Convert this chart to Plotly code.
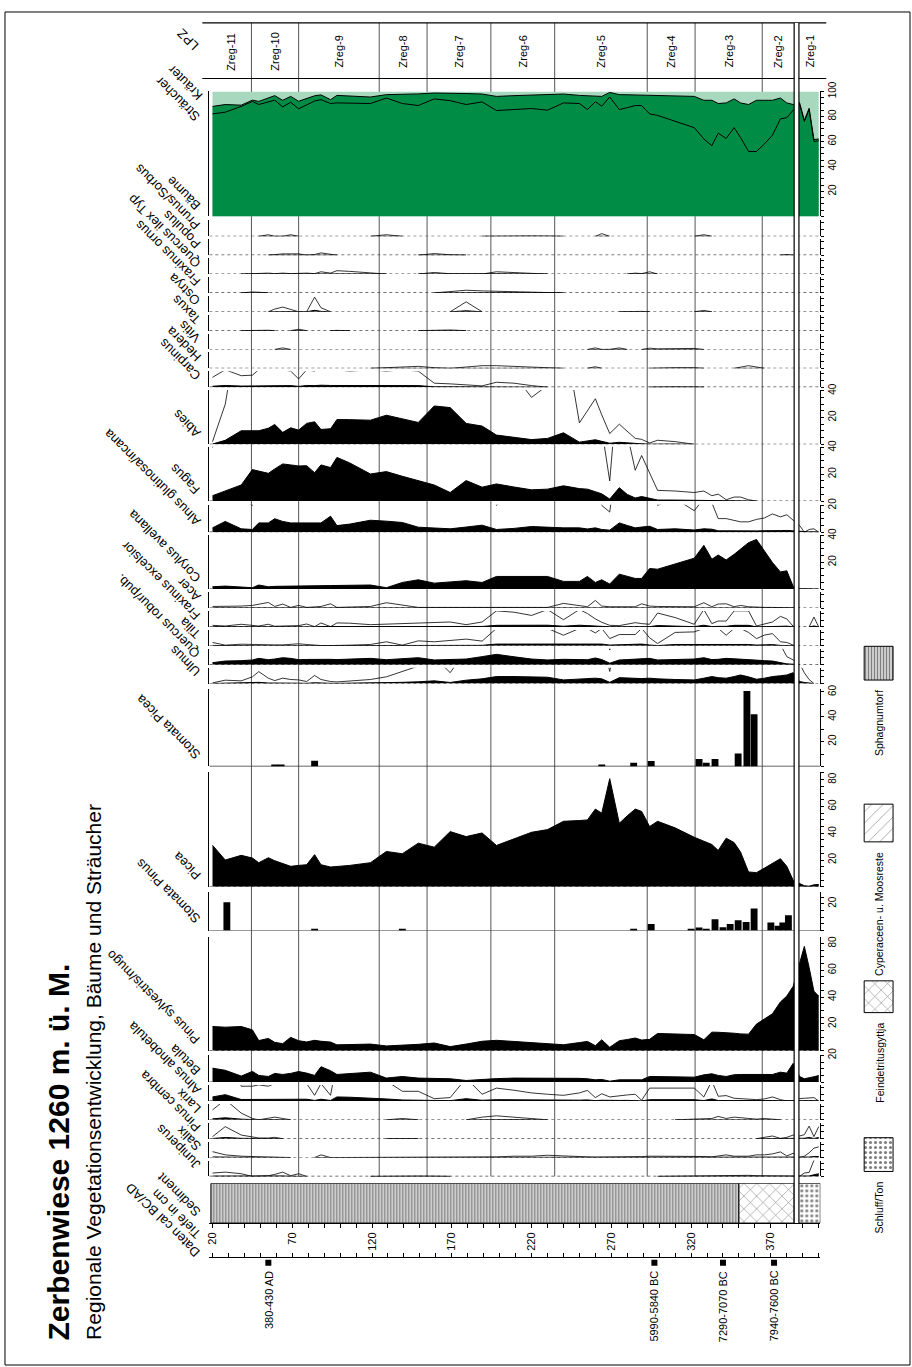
import plotly.graph_objects as go

W, H = 912, 1367
FONT = "Arial, 'Liberation Sans', Helvetica, sans-serif"

# ------------------------------------------------------------------ data
DEPTH = [20, 28, 38, 45, 49, 55, 59, 64, 69, 74,
         79, 84, 88, 94, 98, 106, 119, 129, 139, 149,
         159, 169, 179, 189, 198, 209, 220, 230, 240, 250,
         255, 260, 264, 269, 275, 280, 285, 289, 294, 299,
         310, 322, 328, 333, 337, 342, 347, 351, 356, 361,
         366, 371, 376, 380, 384, 388, 391, 394, 397, 400]

BAEUME = [82, 83.4, 88, 92, 89.5, 91.5, 93, 87.6, 91.3, 86.1,
          89.5, 92.3, 93.4, 90.3, 90.8, 90.6, 90.3, 94.7, 90.3, 88.7,
          94, 92.6, 89.5, 91.6, 84.7, 85.5, 86.3, 85, 90.8, 90.3,
          85.5, 91.8, 88.2, 95.5, 85.5, 87, 88.7, 88.7, 82, 80.8,
          76, 71, 62, 56.6, 66.6, 62.4, 71, 63.2, 52, 52,
          58, 65, 78, 79, 85, 89.5, 76, 85.5, 60, 60.5]
STRAEUCHER = [6, 6.1, 1, 1, 2.5, 3.5, 3.6, 5.3, 4.7, 6,
              5, 4.2, 3.8, 3.1, 6, 5.7, 5.2, 2.7, 7.3, 9.3,
              4.7, 6.1, 8.8, 6.3, 11.3, 11.1, 10.7, 12.4, 7.1, 6.5,
              11.2, 4.8, 7.8, 3.7, 11.9, 10.3, 8.5, 8.5, 15.1, 16.2,
              20.5, 25, 30.9, 36.3, 23.7, 28.4, 23, 27.6, 37.5, 40.9,
              34.9, 27.9, 16.7, 11.8, 4.5, 1.5, 1, 1, 1.5, 1.5]
KRAEUTER = [12, 10.5, 11, 7, 8, 5, 3.4, 7.1, 4, 7.9,
            5.5, 3.5, 2.8, 6.6, 3.2, 3.7, 4.5, 2.6, 2.4, 2,
            1.3, 1.3, 1.7, 2.1, 4, 3.4, 3, 2.6, 2.1, 3.2,
            3.3, 3.4, 4, 0.8, 2.6, 2.7, 2.8, 2.8, 2.9, 3,
            3.5, 4, 7.1, 7.1, 9.7, 9.2, 6, 9.2, 10.5, 7.1,
            7.1, 7.1, 5.3, 9.2, 10.5, 9, 23, 13.5, 38.5, 38]

PRUNUS_SORBUS = [0, 0, 0, 0, 0, 0.12, 0, 0, 0.12, 0,
                 0, 0, 0, 0, 0, 0, 0, 0.12, 0, 0,
                 0, 0, 0, 0, 0.02, 0.03, 0.03, 0.02, 0, 0,
                 0, 0, 0.2, 0, 0, 0, 0, 0, 0, 0,
                 0, 0, 0.12, 0, 0, 0, 0, 0, 0, 0,
                 0, 0, 0, 0, 0, 0, 0, 0, 0, 0]
POPULUS = [0, 0, 0, 0, 0, 0, 0.05, 0.1, 0.1, 0.1,
           0, 0.05, 0.17, 0.05, 0, 0, 0, 0, 0, 0,
           0.12, 0.03, 0, 0, 0, 0, 0, 0, 0, 0,
           0, 0, 0, 0, 0, 0, 0, 0, 0, 0,
           0, 0, 0, 0, 0, 0, 0, 0, 0, 0,
           0, 0, 0, 0.05, 0, 0, 0, 0, 0, 0]
QUERCUS_ILEX = [0, 0, 0, 0.05, 0.05, 0.07, 0.03, 0.07, 0.03, 0.05,
                0.07, 0.03, 0.17, 0.07, 0.25, 0.2, 0.1, 0, 0, 0,
                0.12, 0.02, 0, 0, 0.17, 0.1, 0.05, 0, 0, 0,
                0, 0, 0, 0, 0, 0, 0.07, 0.03, 0.17, 0,
                0, 0, 0, 0, 0, 0, 0, 0, 0, 0,
                0, 0, 0, 0, 0, 0, 0, 0, 0, 0]
FRAXINUS_ORNUS = [0, 0, 0, 0.07, 0.05, 0, 0, 0, 0, 0,
                  0, 0, 0, 0, 0, 0, 0, 0, 0, 0,
                  0, 0.1, 0.2, 0.15, 0.12, 0.1, 0.07, 0.05, 0, 0,
                  0, 0, 0, 0, 0, 0, 0, 0, 0, 0,
                  0, 0, 0, 0, 0, 0, 0, 0, 0, 0,
                  0, 0, 0, 0, 0, 0, 0, 0, 0, 0]
OSTRYA = [0, 0, 0, 0, 0, 0, 0.2, 0.35, 0.2, 0,
          0, 1.09, 0.3, 0, 0, 0, 0, 0, 0, 0,
          0, 0, 0.74, 0, 0, 0, 0, 0, 0, 0,
          0, 0, 0, 0, 0, 0.03, 0.05, 0.03, 0, 0,
          0, 0, 0.1, 0, 0, 0, 0, 0, 0, 0,
          0, 0, 0, 0, 0, 0, 0, 0, 0, 0]
TAXUS = [0, 0, 0, 0.02, 0.02, 0.03, 0, 0, 0, 0.1,
         0, 0, 0, 0, 0.02, 0, 0, 0, 0, 0,
         0.02, 0.05, 0, 0, 0, 0, 0, 0, 0, 0,
         0, 0, 0, 0, 0, 0, 0, 0, 0, 0,
         0, 0, 0, 0, 0, 0, 0, 0, 0, 0,
         0, 0, 0, 0, 0, 0, 0, 0, 0, 0]
VITIS = [0, 0, 0, 0, 0, 0, 0, 0.12, 0, 0,
         0, 0, 0, 0, 0, 0, 0, 0, 0, 0,
         0, 0, 0, 0, 0, 0, 0, 0, 0, 0,
         0, 0.12, 0, 0, 0.12, 0, 0, 0, 0.1, 0.05,
         0.05, 0.08, 0, 0, 0, 0, 0, 0, 0, 0,
         0, 0, 0, 0, 0, 0, 0, 0, 0, 0]
HEDERA = [0, 0, 0, 0, 0, 0, 0, 0, 0, 0,
          0, 0, 0, 0, 0, 0, 0, 0.05, 0.1, 0.15,
          0.05, 0, 0.1, 0.2, 0.2, 0.15, 0.1, 0.05, 0, 0,
          0, 0.12, 0, 0, 0, 0, 0, 0, 0, 0.03,
          0.05, 0.05, 0, 0, 0, 0, 0, 0.1, 0.2, 0.1,
          0, 0, 0, 0, 0, 0, 0, 0, 0, 0]
CARPINUS = [0.74, 1.3, 0.86, 0.9, 1.3, 1.3, 1.5, 1.3, 1.2, 0.62,
            1.3, 1.2, 1.5, 1.3, 1.3, 1.2, 1.3, 1.2, 1.3, 1.2,
            0.3, 0.25, 0.2, 0.1, 0.37, 0.3, 0.12, 0, 0, 0,
            0, 0, 0, 0, 0, 0, 0, 0, 0, 0.02,
            0.03, 0.02, 0, 0, 0, 0, 0, 0, 0, 0,
            0, 0, 0, 0, 0, 0, 0, 0, 0, 0]
ABIES = [0.2, 3.0, 10.1, 10.1, 10.1, 12, 14.8, 8.9, 12.3, 10.6,
         15.6, 16.8, 11.1, 11.6, 18.5, 18.4, 18, 21.7, 18.8, 16.3,
         28.6, 27.4, 15.6, 13.6, 6.9, 5.2, 3.5, 4.4, 8.6, 1.6,
         2.5, 3.4, 2.2, 0.8, 1.5, 1.0, 0.44, 0.37, 0.1, 0.3,
         0.2, 0, 0, 0, 0, 0, 0, 0, 0, 0,
         0, 0, 0, 0, 0, 0, 0, 0, 0, 0]
FAGUS = [4, 7.5, 12, 23.5, 22.5, 20.7, 24, 27.7, 27, 26.2,
         26.4, 21.2, 27, 25, 32.6, 28.5, 20.2, 22, 18.5, 15,
         12, 6.4, 15.3, 10.4, 12.8, 10.5, 8.4, 8.9, 11.4, 9.3,
         8.9, 7, 5.4, 1.5, 10, 5, 2.3, 3.4, 2.1, 0.8,
         0.75, 0.64, 0.75, 0.4, 0.52, 0.1, 0.3, 0.3, 0.1, 0,
         0, 0, 0, 0, 0, 0, 0, 0, 0, 0]
ALNUS_GLUT = [3.2, 8, 2.5, 2, 6.9, 6.9, 10, 8, 6.9, 6.9,
              6.9, 6.9, 6.9, 11.9, 4.9, 6, 8.9, 8.2, 7.2, 3.7,
              3.2, 2.5, 3.8, 5.2, 2, 2.8, 4.2, 3.6, 3.2, 3.2,
              2.4, 3.2, 2, 1.5, 6.9, 5, 3.2, 3.8, 4.4, 2,
              2.5, 1.6, 2.5, 2.2, 1.01, 1.01, 0.9, 0.77, 0.77, 0.95,
              1.06, 1.36, 1.14, 1.3, 0.89, 0.5, 0, 0.2, 0.25, 0]
CORYLUS = [1.7, 2.2, 1.5, 1, 3, 1.7, 2, 2, 2.1, 2.2,
           2.3, 2.4, 2.5, 2.6, 2.7, 2.8, 3, 1, 4.9, 6.9,
           4.4, 5.3, 6.2, 4.9, 9.4, 9.4, 9.4, 9.4, 5.7, 5.7,
           9.4, 4.9, 6.9, 3.7, 11.1, 9.5, 7.9, 7.9, 15.3, 14.8,
           18.5, 23, 32.6, 22.2, 25.4, 21.7, 25.9, 30, 34.6, 37,
           28, 19.8, 12.8, 13.6, 2, 0.2, 0.2, 0.1, 0.1, 0]
ACER = [0.12, 0.12, 0.15, 0.2, 0.3, 0.42, 0.12, 0.3, 0.05, 0.2,
        0.05, 0.1, 0.12, 0.32, 0.05, 0.08, 0.12, 0.4, 0.25, 0.05,
        0.05, 0.05, 0.02, 0.02, 0.05, 0.05, 0.05, 0.05, 0.35, 0.15,
        0.1, 0.57, 0.15, 0.1, 0.12, 0.12, 0.1, 0.32, 0.15, 0.12,
        0.1, 0.1, 0.4, 0.1, 0.3, 0.32, 0.1, 0.2, 0.1, 0.05,
        0.05, 0.05, 0.05, 0.05, 0.05, 0, 0, 0, 0, 0]
FRAX_EXC = [0.12, 0.07, 0.2, 0.12, 0.07, 0.2, 0.05, 0.07, 0.1, 0.1,
            0.22, 0.02, 0.3, 0.02, 0.3, 0.28, 0.17, 0.22, 0.25, 0.28,
            0.32, 0.37, 0.17, 0.37, 1.2, 1.1, 0.86, 1.3, 0.54, 1.3,
            1.0, 0.6, 0.35, 0.12, 0.1, 0.2, 0.32, 0.25, 0.2, 1.04,
            0.7, 0.2, 1.3, 0.25, 0.44, 0.44, 1.2, 1.2, 1.2, 0.07,
            0.2, 0.37, 0.79, 0.6, 0.05, 0, 0, 0, 0.74, 0]
TILIA = [0.25, 0.05, 0.12, 0.1, 0.05, 0.05, 0.07, 0.07, 0.1, 0.15,
         0.1, 0.05, 0.02, 0.02, 0.02, 0.05, 0.1, 0.3, 0.05, 0.37,
         0.3, 0.42, 0.5, 0.35, 1.3, 1.3, 1.3, 1.3, 0.79, 1.3,
         1.3, 0.96, 1.3, 0.54, 0.84, 0.84, 0.84, 1.3, 0.6, 0.17,
         1.0, 1.04, 1.3, 1.3, 1.3, 0.79, 1.3, 1.3, 1.0, 0.54,
         0.8, 0.91, 0.3, 0.25, 0.05, 0, 0, 0, 0, 0]
QUERCUS = [1.5, 2.7, 3, 3.5, 4.7, 3.7, 4.2, 5.2, 4.7, 3.7,
           3.9, 4, 4.2, 4, 3.8, 4.2, 4.7, 3.7, 4.3, 5.2,
           3.5, 3.8, 4.2, 6, 7.7, 5.9, 4.2, 3.5, 4, 3.8,
           3.7, 5, 3.8, 1.09, 3.5, 3.8, 4.2, 4.4, 4.7, 3.5,
           3.8, 4.2, 5.2, 3.8, 4, 4.7, 4.4, 4, 3.7, 3.5,
           3, 2.7, 1.5, 0.6, 0.35, 0, 0, 0, 0, 0]
ULMUS = [0.05, 0.25, 0.2, 0.5, 0.89, 0.4, 0.22, 0.4, 0.3, 0.27,
         0.15, 0.6, 0.3, 0.15, 0.12, 0.2, 0.3, 0.5, 0.9, 1.3,
         2, 0.81, 2.5, 3.5, 5.2, 5.2, 5.2, 4.7, 2.7, 3.5,
         3.8, 4, 3.5, 0.9, 4.4, 4, 3.5, 3.7, 4, 3.5,
         3, 2.7, 4, 5.2, 4.4, 4, 5.2, 6.4, 5, 3.2,
         4, 5.2, 5.8, 6.4, 8.1, 1.5, 0.8, 0.3, 0, 0]
PICEA = [31, 20, 23.5, 21.5, 18, 21.7, 19.5, 17.5, 15.3, 16,
         16.5, 24, 16.5, 14.8, 15.2, 16, 18, 26.4, 24.7, 32.6,
         29.6, 41.2, 37.5, 40.2, 30.9, 35.8, 40.7, 42.7, 48.9, 49.5,
         49.9, 58, 55, 80.7, 47.4, 53, 58, 56.3, 45, 48.9,
         44, 37, 34, 31.6, 27.2, 36.3, 33, 26, 11.1, 10.6,
         14, 17.8, 21, 15.3, 4.9, 2.5, 0.8, 0.5, 1.5, 1.8]
PINUS = [18, 17.5, 18, 15.5, 7.5, 9.1, 6.2, 5.2, 9.9, 7.4,
         6.5, 7.7, 7, 6.4, 4.3, 4.5, 4.9, 3.5, 4, 4.7,
         5.7, 3, 4.9, 7, 7.7, 6.8, 5.8, 5, 4.4, 6,
         6.9, 3.7, 8.1, 2.5, 7.4, 8.3, 9.4, 7.9, 8.4, 12.8,
         12.5, 12, 8.1, 13.8, 13.7, 13.6, 13, 12.5, 12.3, 19.8,
         23.5, 27.5, 36.3, 40.7, 48, 66, 77.8, 62, 44.4, 40.7]
BETULA = [10.4, 8.8, 4.5, 8, 5, 4.2, 6.5, 5.7, 6.5, 7.9,
          6.7, 5, 11.5, 8.5, 5.7, 6.2, 7.4, 3, 4.2, 3,
          3, 2.5, 1.2, 2.2, 2.6, 3, 3, 3.2, 3, 2.8,
          2.5, 1.7, 2, 0.7, 1.7, 1.8, 1.7, 1.7, 4.2, 4,
          3.9, 3.7, 5.4, 6.2, 5, 4.2, 5.5, 5.7, 5.7, 5.7,
          5.7, 5.7, 7.4, 6.7, 14, 4.2, 2.5, 3, 4, 4.9]
ALNUS_ALNOB = [3, 4.7, 1.1, 1.1, 1.2, 1.1, 1.3, 1.5, 1.5, 1.5,
               1.3, 0.42, 1.3, 0.42, 3, 2.8, 2.2, 1.5, 0.72, 0.72,
               0.17, 0.25, 1.7, 0.5, 0.96, 0.8, 0.6, 0.5, 0.42, 0.6,
               0.79, 0.25, 0.54, 0.3, 0.4, 0.45, 0.5, 0.05, 0.96, 0.96,
               0.96, 0.96, 0.3, 1.5, 0.35, 0.4, 0.2, 0.17, 0.15, 0.1,
               0.15, 0.3, 0.1, 0, 0, 0.17, 0.2, 0.2, 0.25, 0]
LARIX = [0.74, 1.5, 0.5, 0.1, 0, 0.15, 0.2, 0.1, 0, 0,
         0, 0, 0, 0, 0, 0, 0, 0, 0.1, 0,
         0, 0, 0, 0.2, 0.3, 0.2, 0.1, 0, 0, 0,
         0, 0, 0, 0, 0, 0, 0, 0, 0, 0,
         0, 0.05, 0.05, 0.1, 0.25, 0.1, 0.2, 0.15, 0.1, 0.05,
         0.1, 0.05, 0, 0, 0, 0, 0, 0, 0, 0]
PINUS_CEMBRA = [0.15, 0.9, 0.27, 0.15, 0.05, 0.05, 0.1, 0, 0, 0,
                0, 0, 0, 0, 0, 0, 0, 0, 0.02, 0,
                0, 0, 0, 0, 0, 0, 0, 0, 0, 0,
                0, 0, 0, 0, 0, 0, 0, 0, 0, 0,
                0, 0, 0, 0, 0, 0, 0, 0, 0, 0,
                0.1, 0.2, 0.02, 0.1, 0.27, 0.2, 0.3, 0.94, 0.15, 0.9]
SALIX = [0.44, 0.2, 0.1, 0.07, 0.05, 0.05, 0.02, 0.02, 0, 0,
         0, 0, 0.2, 0, 0, 0.02, 0.03, 0.03, 0.03, 0.03,
         0.03, 0.05, 0.05, 0.05, 0.05, 0.1, 0.1, 0.17, 0.1, 0.05,
         0.05, 0.03, 0.03, 0.05, 0.03, 0.05, 0.05, 0.07, 0.1, 0.1,
         0.1, 0.12, 0.08, 0.05, 0.12, 0.2, 0.1, 0.12, 0.1, 0.2,
         0.2, 0.27, 0.42, 0.12, 0.32, 0, 0.1, 0.35, 0.7, 0.8]
JUNIPERUS = [0.25, 0.32, 0.2, 0, 0.02, 0.05, 0.15, 0.32, 0.05, 0.2,
             0, 0, 0, 0, 0, 0, 0, 0.02, 0.05, 0.03,
             0.02, 0, 0, 0, 0, 0, 0, 0, 0, 0,
             0, 0, 0, 0, 0, 0, 0, 0, 0, 0,
             0.02, 0.02, 0.02, 0.03, 0.03, 0.05, 0.05, 0.05, 0.08, 0.05,
             0.05, 0.05, 0.05, 0.05, 0, 0, 0.25, 0.3, 1.2, 2]

STOMATA_PICEA_DEPTH = [59, 63, 84, 264, 284, 295, 325, 329.5, 335, 349.5, 355, 359.5]
STOMATA_PICEA = [1.1, 1.1, 4.5, 0.8, 3, 4.3, 5.9, 3, 5.9, 10.4, 60.8, 42]
STOMATA_PINUS_DEPTH = [29, 84, 139, 284, 295, 320, 325, 329.5, 335, 340,
                       344.5, 349.5, 354.5, 359.5, 370, 374.5, 377.5, 381]
STOMATA_PINUS = [21, 1, 1, 1, 4.9, 1, 2.2, 1, 8.4, 2.5,
                 4.9, 7.7, 6.4, 16.5, 5.9, 3.5, 6, 11.4]

ZONE_NAMES = ["Zreg-11", "Zreg-10", "Zreg-9", "Zreg-8", "Zreg-7", "Zreg-6",
              "Zreg-5", "Zreg-4", "Zreg-3", "Zreg-2", "Zreg-1"]
ZONE_TOP = [19, 44.4, 74, 124.5, 154.5, 194.5, 234.5, 292.5, 322.5, 364.6, 387.6]
ZONE_BOTTOM = [44.4, 74, 124.5, 154.5, 194.5, 234.5, 292.5, 322.5, 364.6, 384.6, 401]
HIATUS = [384.6, 387.6]

DATE_DEPTH = [55, 297, 340, 372]
DATE_LABELS = ["380-430 AD", "5990-5840 BC", "7290-7070 BC", "7940-7600 BC"]

SED_START = [19, 350, 386]
SED_END = [350, 384.6, 401]
SED_TYPE = ["Sphagnumtorf", "Feindetritusgyttja", "Schluff/Ton"]
LEGEND_TYPES = ["Sphagnumtorf", "Cyperaceen- u. Moosreste", "Feindetritusgyttja", "Schluff/Ton"]

TITLE = "Zerbenwiese 1260 m. ü. M."
SUBTITLE = "Regionale Vegetationsentwicklung, Bäume und Sträucher"

# ------------------------------------------------------------------ style / layout helpers
X_RANGE = [18, 401]
PXPCT = 1.35          # pixel per percent
EXAG = 10             # exaggeration factor
SMALL = 16 / PXPCT    # range of the small curves
DARK_GREEN = "#008c45"
LIGHT_GREEN = "#a8d9be"
LABEL_SIZE = 13
PATTERNS = {
    "Sphagnumtorf": dict(shape="|", size=3, solidity=0.6),
    "Cyperaceen- u. Moosreste": dict(shape="/", size=8, solidity=0.08),
    "Feindetritusgyttja": dict(shape="x", size=9, solidity=0.12),
    "Schluff/Ton": dict(shape=".", size=5, solidity=0.3),
}


def fx(p):
    return p / W


def fy(p):
    return 1 - p / H


fig = go.Figure()
axes = {}
shapes = []
anns = []
ycount = [0]


def next_key():
    ycount[0] += 1
    k = ycount[0]
    return ("y" if k == 1 else "y%d" % k), ("yaxis" if k == 1 else "yaxis%d" % k)


def make_y(base, top, rmax, tickvals=None, ticktext=None, visible=True, anchor="x"):
    name, key = next_key()
    ax = dict(domain=[fy(base), fy(top)], range=[0, rmax], anchor=anchor,
              showgrid=False, zeroline=False, fixedrange=True)
    if visible:
        ax.update(side="right", showline=True, linecolor="black", linewidth=1, mirror=True,
                  ticks="outside", ticklen=3, tickwidth=1, tickcolor="black",
                  tickmode="array", tickvals=tickvals, ticktext=ticktext, tickangle=-90,
                  tickfont=dict(family=FONT, size=10, color="black"))
    else:
        ax.update(visible=False)
    axes[key] = ax
    if visible:
        # inner ticks on the left-hand axis line
        _, key2 = next_key()
        axes[key2] = dict(overlaying=name, side="left", anchor=anchor, range=[0, rmax],
                          showgrid=False, zeroline=False, fixedrange=True, showline=False,
                          ticks="inside", ticklen=3, tickwidth=1, tickcolor="black",
                          tickmode="array", tickvals=tickvals, showticklabels=False)
    return name


def label(text, y_px, x_px=204, size=LABEL_SIZE):
    anns.append(dict(text=text, xref="paper", yref="paper", x=fx(x_px), y=fy(y_px),
                     xanchor="right", yanchor="bottom", textangle=-135, showarrow=False,
                     font=dict(family=FONT, size=size, color="black")))


def mask(vals):
    out = []
    n = len(vals)
    for i, v in enumerate(vals):
        left = vals[i - 1] if i > 0 else 0
        right = vals[i + 1] if i < n - 1 else 0
        out.append(None if (v == 0 and left == 0 and right == 0) else v)
    return out


def ticks_for(rmax, labels, dtick):
    tv = list(range(0, int(rmax) + 1, dtick))
    tt = [str(v) if v in labels else "" for v in tv]
    return tv, tt


def area_panel(name, vals, base, rmax, labels=(), exag=False, dtick=5):
    top = base - rmax * PXPCT
    tv, tt = ticks_for(rmax, labels, dtick)
    yn = make_y(base, top, rmax, tv, tt)
    shapes.append(dict(type="line", xref="x", yref=yn, x0=X_RANGE[0], x1=X_RANGE[1], y0=0, y1=0,
                       line=dict(color="#444", width=1.2, dash="dot"), layer="below"))
    fig.add_trace(go.Scatter(x=DEPTH, y=mask(vals), mode="lines", fill="tozeroy", fillcolor="black",
                             line=dict(color="black", width=1), xaxis="x", yaxis=yn,
                             hoverinfo="skip", name=name))
    if exag:
        fig.add_trace(go.Scatter(x=DEPTH, y=mask([v * EXAG for v in vals]), mode="lines",
                                 line=dict(color="black", width=0.8), xaxis="x", yaxis=yn,
                                 hoverinfo="skip", name=name + " x10"))
    label(name, base - 1)


def bar_panel(name, depths, vals, base, rmax, scale, labels, dtick):
    top = base - rmax * scale
    tv, tt = ticks_for(rmax, labels, dtick)
    yn = make_y(base, top, rmax, tv, tt)
    shapes.append(dict(type="line", xref="x", yref=yn, x0=X_RANGE[0], x1=X_RANGE[1], y0=0, y1=0,
                       line=dict(color="#333", width=1.2), layer="below"))
    fig.add_trace(go.Bar(x=depths, y=vals, width=4.3, marker=dict(color="black", line=dict(width=0)),
                         xaxis="x", yaxis=yn, hoverinfo="skip", name=name))
    label(name, base - 1)


# ------------------------------------------------------------------ green summary panel
tv, tt = ticks_for(100, (20, 40, 60, 80, 100), 5)
yg = make_y(208, 82, 100, tv, tt)
cum1 = BAEUME
cum2 = [b + s for b, s in zip(BAEUME, STRAEUCHER)]
cum3 = [b + s + k for b, s, k in zip(BAEUME, STRAEUCHER, KRAEUTER)]
fig.add_trace(go.Scatter(x=DEPTH, y=cum3, mode="lines", fill="tozeroy", fillcolor=LIGHT_GREEN,
                         line=dict(width=0), xaxis="x", yaxis=yg, hoverinfo="skip", name="Kräuter"))
fig.add_trace(go.Scatter(x=DEPTH, y=cum2, mode="lines", fill="tozeroy", fillcolor=DARK_GREEN,
                         line=dict(color="black", width=1), xaxis="x", yaxis=yg, hoverinfo="skip",
                         name="Sträucher"))
fig.add_trace(go.Scatter(x=DEPTH, y=cum1, mode="lines", line=dict(color="black", width=1),
                         xaxis="x", yaxis=yg, hoverinfo="skip", name="Bäume"))
label("Bäume", 207)
label("Sträucher", 118)
label("Kräuter", 96, x_px=206)

# ------------------------------------------------------------------ pollen panels
small_upper = [("Prunus/Sorbus", PRUNUS_SORBUS), ("Populus", POPULUS),
               ("Quercus ilex Typ", QUERCUS_ILEX), ("Fraxinus ornus", FRAXINUS_ORNUS),
               ("Ostrya", OSTRYA), ("Taxus", TAXUS), ("Vitis", VITIS), ("Hedera", HEDERA),
               ("Carpinus", CARPINUS)]
for i, (nm, vals) in enumerate(small_upper):
    area_panel(nm, vals, 228 + 19 * i, SMALL, exag=True)

area_panel("Abies", ABIES, 437.5, 40.5, (20, 40), exag=True)
area_panel("Fagus", FAGUS, 494.7, 40.5, (20, 40), exag=True)
area_panel("Alnus glutinosa/incana", ALNUS_GLUT, 526, 20.5, (20,), exag=True)
area_panel("Corylus avellana", CORYLUS, 583.3, 40.5, (20, 40))

small_mid = [("Acer", ACER), ("Fraxinus excelsior", FRAX_EXC), ("Tilia", TILIA),
             ("Quercus robur/pub.", QUERCUS), ("Ulmus", ULMUS)]
for i, (nm, vals) in enumerate(small_mid):
    area_panel(nm, vals, 602.5 + 19 * i, SMALL, exag=True)

bar_panel("Stomata Picea", STOMATA_PICEA_DEPTH, STOMATA_PICEA, 762, 62, 1.25, (20, 40, 60), 10)
area_panel("Picea", PICEA, 883.3, 85.4, (20, 40, 60, 80))
bar_panel("Stomata Pinus", STOMATA_PINUS_DEPTH, STOMATA_PINUS, 927.3, 29, PXPCT, (20,), 5)
area_panel("Pinus sylvestris/mugo", PINUS, 1048.3, 84.7, (20, 40, 60, 80))
area_panel("Betula", BETULA, 1080, 20.4, (20,))

small_low = [("Alnus alnobetula", ALNUS_ALNOB), ("Larix", LARIX), ("Pinus cembra", PINUS_CEMBRA),
             ("Salix", SALIX), ("Juniperus", JUNIPERUS)]
for i, (nm, vals) in enumerate(small_low):
    area_panel(nm, vals, 1099 + 19 * i, SMALL, exag=True)

# ------------------------------------------------------------------ sediment column
ys = make_y(1222, 1182, 1, visible=False)
fig.add_trace(go.Bar(orientation="h", y=[0.5] * len(SED_TYPE),
                     x=[e - s for s, e in zip(SED_START, SED_END)], base=SED_START,
                     width=[1] * len(SED_TYPE),
                     marker=dict(color="white", line=dict(color="black", width=1),
                                 pattern=dict(shape=[PATTERNS[t]["shape"] for t in SED_TYPE],
                                              size=[PATTERNS[t]["size"] for t in SED_TYPE],
                                              solidity=[PATTERNS[t]["solidity"] for t in SED_TYPE],
                                              fgcolor="black", bgcolor="white")),
                     xaxis="x", yaxis=ys, hoverinfo="skip", name="Sediment"))
label("Sediment", 1221)
label("Tiefe in cm", 1243)
label("Daten cal BC/AD", 1262)

# ------------------------------------------------------------------ dates
yd = make_y(1266, 1258, 1, visible=False, anchor="x2")
fig.add_trace(go.Scatter(x=DATE_DEPTH, y=[0.5] * len(DATE_DEPTH), mode="markers",
                         marker=dict(symbol="square", size=6, color="black"),
                         xaxis="x2", yaxis=yd, hoverinfo="skip", name="Daten"))
for d, t in zip(DATE_DEPTH, DATE_LABELS):
    anns.append(dict(text=t, xref="x", yref="paper", x=d, y=fy(1268), xanchor="center",
                     yanchor="top", textangle=-90, showarrow=False,
                     font=dict(family=FONT, size=11, color="black")))

# ------------------------------------------------------------------ legend (overlay axes in pixels)
yl = make_y(H, 0, 1, visible=False, anchor="x3")
axes["yaxis%d" % ycount[0]].update(range=[H, 0])
LEG_BOX = {"Sphagnumtorf": (641, 675), "Cyperaceen- u. Moosreste": (800, 838),
           "Feindetritusgyttja": (978, 1010), "Schluff/Ton": (1136, 1170)}
for t in LEGEND_TYPES:
    y0, y1 = LEG_BOX[t]
    p = PATTERNS[t]
    fig.add_trace(go.Scatter(x=[864, 893, 893, 864, 864], y=[y0, y0, y1, y1, y0], mode="lines",
                             fill="toself", fillcolor="white",
                             fillpattern=dict(shape=p["shape"], size=p["size"], solidity=p["solidity"],
                                              fgcolor="black", bgcolor="white"),
                             line=dict(color="black", width=1), xaxis="x3", yaxis=yl,
                             hoverinfo="skip", name=t))
    anns.append(dict(text=t, xref="paper", yref="paper", x=fx(879), y=fy(y1 + 8), xanchor="center",
                     yanchor="top", textangle=-90, showarrow=False,
                     font=dict(family=FONT, size=10.5, color="black")))

# ------------------------------------------------------------------ zones, LPZ box, hiatus
for b in ZONE_BOTTOM[:-2]:
    shapes.append(dict(type="line", xref="x", yref="paper", x0=b, x1=b, y0=fy(1175), y1=fy(13),
                       line=dict(color="#555", width=1), layer="below"))
for yy in (13, 69):
    shapes.append(dict(type="line", xref="paper", yref="paper", x0=fx(200), x1=fx(826),
                       y0=fy(yy), y1=fy(yy), line=dict(color="black", width=1.2)))
for nm, a, b in zip(ZONE_NAMES, ZONE_TOP, ZONE_BOTTOM):
    anns.append(dict(text=nm, xref="x", yref="paper", x=(a + b) / 2, y=fy(42), xanchor="center",
                     yanchor="middle", textangle=-90, showarrow=False,
                     font=dict(family=FONT, size=11, color="black")))
label("LPZ", 47, x_px=202)

shapes.append(dict(type="rect", xref="x", yref="paper", x0=HIATUS[0], x1=HIATUS[1],
                   y0=fy(1222), y1=fy(13), fillcolor="white", line=dict(width=0), layer="above"))
for hx in HIATUS:
    shapes.append(dict(type="line", xref="x", yref="paper", x0=hx, x1=hx, y0=fy(1222), y1=fy(13),
                       line=dict(color="black", width=1.2), layer="above"))

# page frame
shapes.append(dict(type="rect", xref="paper", yref="paper", x0=fx(2), x1=fx(910), y0=fy(1365),
                   y1=fy(2), line=dict(color="black", width=1), fillcolor="rgba(0,0,0,0)"))

# titles
anns.append(dict(text="<b>" + TITLE + "</b>", xref="paper", yref="paper", x=fx(56), y=fy(1342),
                 xanchor="center", yanchor="bottom", textangle=-90, showarrow=False,
                 font=dict(family=FONT, size=30, color="black")))
anns.append(dict(text=SUBTITLE, xref="paper", yref="paper", x=fx(90), y=fy(1342),
                 xanchor="center", yanchor="bottom", textangle=-90, showarrow=False,
                 font=dict(family=FONT, size=21, color="black")))

# ------------------------------------------------------------------ axes & layout
axes["xaxis"] = dict(domain=[fx(207), fx(820)], range=X_RANGE, anchor="free", position=fy(1222),
                     showline=True, linecolor="black", linewidth=1, ticks="outside", ticklen=4,
                     tickcolor="black", tick0=20, dtick=50, tickangle=-90,
                     tickfont=dict(family=FONT, size=11, color="black"),
                     minor=dict(tick0=20, dtick=10, ticks="outside", ticklen=4, tickcolor="black"),
                     showgrid=False, zeroline=False, fixedrange=True)
axes["xaxis2"] = dict(domain=[fx(207), fx(820)], matches="x", anchor="free", position=fy(1256),
                      showline=True, linecolor="black", linewidth=1, ticks="inside", ticklen=4,
                      tickcolor="black", tick0=20, dtick=10, showticklabels=False,
                      showgrid=False, zeroline=False, fixedrange=True)
axes["xaxis3"] = dict(domain=[0, 1], range=[0, W], anchor=yl, visible=False, fixedrange=True)

fig.update_layout(width=W, height=H, margin=dict(l=0, r=0, t=0, b=0),
                  paper_bgcolor="white", plot_bgcolor="rgba(0,0,0,0)", showlegend=False,
                  barmode="overlay", shapes=shapes, annotations=anns,
                  font=dict(family=FONT, color="black"), **axes)

fig.write_html("out.html", config={"displayModeBar": False},
               post_script="document.body.style.margin='0px';document.body.style.overflow='hidden';")
